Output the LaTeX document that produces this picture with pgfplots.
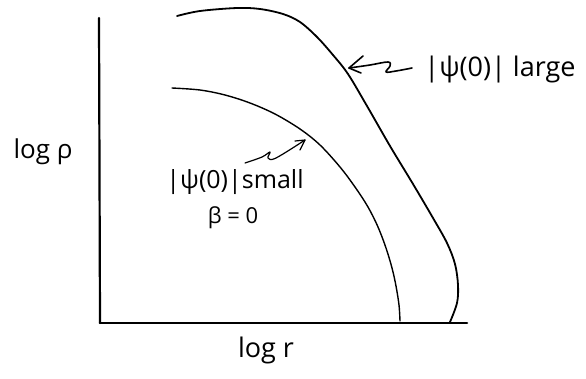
\documentclass[border=0pt]{standalone}
\usepackage{fontspec}
\setmainfont{Open Sans}
\usepackage{pgfplots}
\pgfplotsset{compat=1.18}

\begin{document}
\begin{tikzpicture}
\begin{axis}[
  scale only axis, width=586pt, height=378pt,
  xmin=0, xmax=586, ymin=0, ymax=378, y dir=reverse,
  hide axis, clip=false,
  every axis plot/.append style={no marks, black, line cap=round, line join=round},
]
% axes
\addplot[line width=2.2pt] coordinates {(99,18) (100,323)};
\addplot[line width=2.6pt] coordinates {(100,323) (467,323)};

% |psi(0)| large
\addplot[line width=1.8pt, smooth, tension=0.55] coordinates {
  (177,16) (200,11) (237,8) (260,9) (283,14) (300,22) (317,37) (333,55)
  (348,74) (367,106) (390,146) (413,184) (433,218) (447,243) (455,264)
  (458,285) (457,303) (450,322)};

% |psi(0)| small
\addplot[line width=1.4pt, smooth, tension=0.55] coordinates {
  (172,88) (200,90) (225,95) (250,103) (275,114) (300,129) (320,145)
  (340,167) (355,187) (368,207) (378,227) (386,248) (392,268) (396,286)
  (399,305) (400,321)};

% arrow to the outer curve
\addplot[line width=1.6pt, smooth, tension=0.6] coordinates {
  (349,68) (370,65) (388,62) (390,66) (386,72) (396,71) (412,68)};
\addplot[line width=1.6pt] coordinates {(363,56) (349,68) (361,73)};

% arrow to the inner curve
\addplot[line width=1.2pt, smooth, tension=0.6] coordinates {
  (245,163) (262,157) (270,152) (268,158) (276,158) (305,140)};
\addplot[line width=1.2pt] coordinates {(295,141) (305,140) (300,150)};

\node[font=\fontsize{26}{30}\selectfont] at (axis cs:43,152) {log ρ};
\node[font=\fontsize{27}{31}\selectfont] at (axis cs:266,350) {log r};
\node[font=\fontsize{27}{31}\selectfont] at (axis cs:500,70) {|ψ(0)| large};
\node[font=\fontsize{25}{29}\selectfont] at (axis cs:235,182) {|ψ(0)|small};
\node[font=\fontsize{22}{26}\selectfont] at (axis cs:233,218) {β = 0};
\end{axis}
\pgfresetboundingbox
\path (current axis.south west) rectangle (current axis.north east);
\end{tikzpicture}
\end{document}
